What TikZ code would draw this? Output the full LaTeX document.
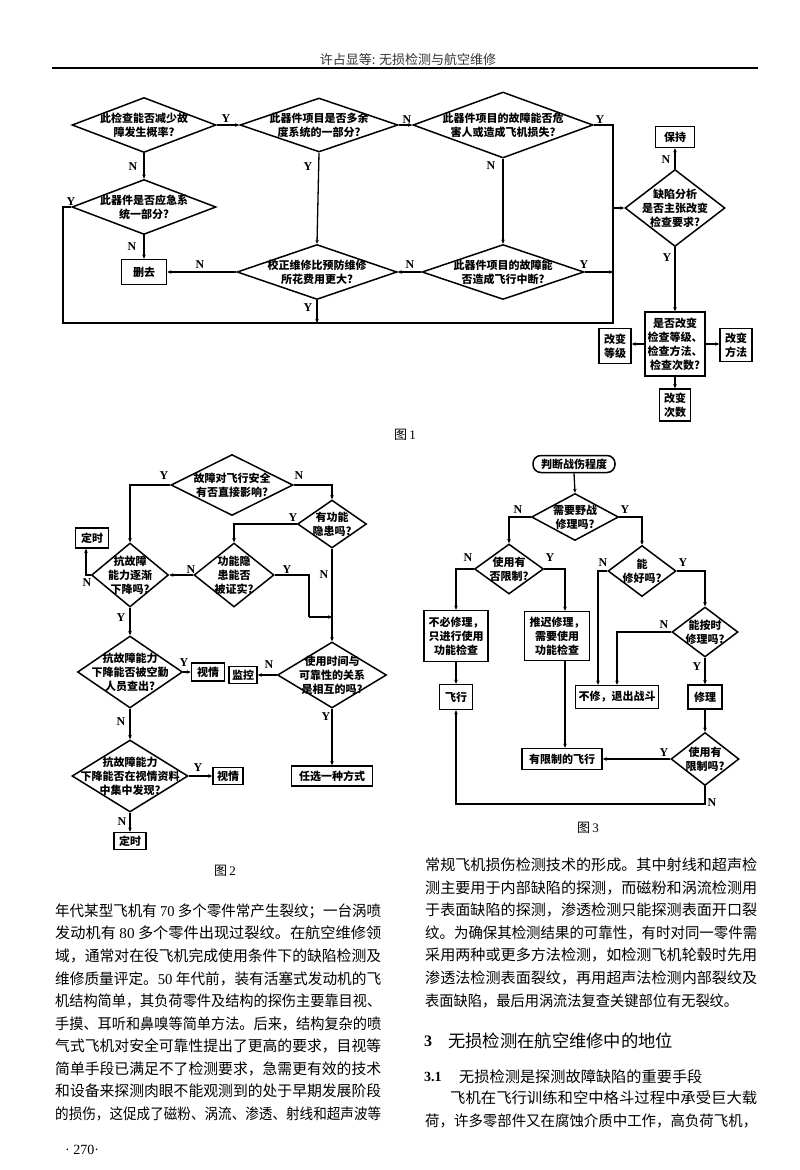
\documentclass[tikz,border=0pt]{standalone}
\usepackage{fontspec}
\usepackage{graphicx}
\setmainfont{Liberation Serif}
\newfontfamily\cjk{Noto Sans CJK SC}
\newfontfamily\cjkbody{Noto Sans CJK SC}
\usetikzlibrary{shapes.geometric,arrows.meta}
\newcommand\dfont{\cjk\bfseries\fontsize{11}{14}\selectfont}
\newcommand\ynfont{\rmfamily\bfseries\fontsize{12}{12}\selectfont}
\newcommand\bfont{\cjkbody\fontsize{15}{18}\selectfont}
\newcommand\dg[1]{{\rmfamily #1}}
\newcommand\jl[4]{\node[anchor=west,inner sep=0pt] (#1) at (#2) {\resizebox{#3pt}{\height}{\bfont #4}};}
\tikzset{
  ln/.style={line width=1.3pt},
  arr/.style={line width=1.3pt,-{Stealth[length=4pt,width=3.5pt]}},
  dia/.style 2 args={diamond, draw, line width=1.5pt, inner sep=0pt, minimum width=#1, minimum height=#2},
  dl/.style={label={[lbl]center:{#1}}},
  lbl/.style={align=center, font=\dfont, inner sep=0pt},
  bx/.style={draw, line width=1.5pt, inner sep=1.5pt, align=center, font=\dfont},
  yn/.style={font=\ynfont, inner sep=0pt},
  figcap/.style={font=\fontsize{13}{13}\selectfont, inner sep=0pt},
}
\begin{document}
\begin{tikzpicture}[x=1pt,y=-1pt]
\fill[white] (0,0) rectangle (800,1170);
\useasboundingbox (0,0) rectangle (800,1170);

% header
\node[font=\cjk\fontsize{13}{13}\selectfont, text=black!80, inner sep=0pt] (hdr) at (408,60) {许占显等: 无损检测与航空维修};
\draw[line width=1.1pt] (52,68) -- (758,68);

% ================= Figure 1 =================
\node[dia={144pt}{55pt}, dl={此检查能否减少故\\障发生概率?}] (d1) at (144,125) {};
\node[dia={158pt}{54pt}, dl={此器件项目是否多余\\度系统的一部分?}] (d2) at (319,125) {};
\node[dia={180pt}{66pt}, dl={此器件项目的故障能否危\\害人或造成飞机损失?}] (d3) at (503,125) {};
\node[dia={144pt}{55pt}, dl={此器件是否应急系\\统一部分?}] (d4) at (144,207) {};
\node[bx, minimum width=45pt, minimum height=25pt] (del) at (144,272) {删去};
\node[dia={160pt}{55pt}, dl={校正维修比预防维修\\所花费用更大?}] (d7) at (317,272) {};
\node[dia={162pt}{55pt}, dl={此器件项目的故障能\\否造成飞行中断?}] (d5) at (503,272) {};
\node[dia={100pt}{77pt}, dl={缺陷分析\\是否主张改变\\检查要求?}] (d6) at (675,208) {};
\node[bx, minimum width=39pt, minimum height=21pt] (keep) at (675,137) {保持};
\node[bx, minimum width=60pt, minimum height=64pt] (chg) at (675,344) {是否改变\\检查等级、\\检查方法、\\检查次数?};
\node[bx, minimum width=32pt, minimum height=35pt] (cl) at (615,346) {改变\\等级};
\node[bx, minimum width=32pt, minimum height=33pt] (cm) at (736,345) {改变\\方法};
\node[bx, minimum width=31pt, minimum height=32pt] (cc) at (675,405) {改变\\次数};

\coordinate (j1) at (613,208);
\coordinate (bl) at (63,323);
\coordinate (br) at (613,323);
\draw[arr] (d1.east) -- (d2.west);
\draw[arr] (d2.east) -- (d3.west);
\draw[arr] (d1.south) -- (d4.north);
\draw[arr] (d4.south) -- (del.north);
\draw[arr] (d2.south) -- (d7.north);
\draw[arr] (d3.south) -- (d5.north);
\draw[arr] (d7.west) -- (del.east);
\draw[arr] (d5.west) -- (d7.east);
\draw[ln] (d3.east) -| (j1);
\draw[ln] (d4.west) -| (bl) -- (br) -- (j1);
\draw[arr] (d5.east) -- (d5.east -| j1);
\draw[arr] (d7.south) -- (d7.south |- br);
\draw[arr] (j1) -- (d6.west);
\draw[arr] (d6.north) -- (keep.south);
\draw[arr] (d6.south) -- (chg.north);
\draw[arr] (chg.west) -- (chg.west -| cl.east);
\draw[arr] (chg.east) -- (chg.east -| cm.west);
\draw[arr] (chg.south) -- (cc.north);

\node[yn] (y1) at (226,119) {Y};
\node[yn] (n1) at (133,167) {N};
\node[yn] (y2) at (71,202) {Y};
\node[yn] (n2) at (132,247) {N};
\node[yn] (n3) at (200,265) {N};
\node[yn] (y3) at (308,167) {Y};
\node[yn] (n4) at (407,120) {N};
\node[yn] (n5) at (491,166) {N};
\node[yn] (y4) at (600,120) {Y};
\node[yn] (n6) at (410,265) {N};
\node[yn] (y5) at (584,265) {Y};
\node[yn] (y6) at (308,308) {Y};
\node[yn] (n7) at (666,160) {N};
\node[yn] (y7) at (667,258) {Y};
\node[figcap] (cap1) at (405,435) {{\cjk 图}\,1};

% ================= Figure 2 =================
\node[dia={122pt}{61pt}, dl={故障对飞行安全\\有否直接影响?}] (e1) at (232,485) {};
\node[dia={77pt}{64pt}, dl={抗故障\\能力逐渐\\下降吗?}] (e2) at (130,575) {};
\node[dia={69pt}{48pt}, dl={有功能\\隐患吗?}] (e3) at (332,524) {};
\node[dia={80pt}{64pt}, dl={功能隐\\患能否\\被证实?}] (e4) at (234,575) {};
\node[bx, minimum width=33pt, minimum height=20pt] (t1) at (92,538) {定时};
\node[dia={105pt}{72pt}, dl={抗故障能力\\下降能否被空勤\\人员查出?}] (e6) at (130,672) {};
\node[bx, minimum width=33pt, minimum height=18pt] (v1) at (208,672) {视情};
\node[dia={109pt}{66pt}, dl={使用时间与\\可靠性的关系\\是相互的吗?}] (e7) at (332,675) {};
\node[bx, minimum width=28pt, minimum height=17pt] (m1) at (243,675) {监控};
\node[bx, minimum width=81pt, minimum height=20pt] (r1) at (332,776) {任选一种方式};
\node[dia={116pt}{72pt}, dl={抗故障能力\\下降能否在视情资料\\中集中发现?}] (e8) at (130,776) {};
\node[bx, minimum width=30pt, minimum height=17pt] (v2) at (228,776) {视情};
\node[bx, minimum width=32pt, minimum height=17pt] (t2) at (130,841) {定时};

\coordinate (k1) at (309,617);
\coordinate (k2) at (86,575);
\draw[arr] (e1.west) -| (e2.north);
\draw[arr] (e1.east) -| (e3.north);
\draw[arr] (e3.west) -| (e4.north);
\draw[arr] (e4.west) -- (e2.east);
\draw[ln] (e4.east) -| (k1);
\draw[arr] (k1) -- (k1 -| e3.south);
\draw[arr] (e3.south) -- (e7.north);
\draw[arr] (e2.west) -- (k2) -- (k2 |- t1.south);
\draw[arr] (e2.south) -- (e6.north);
\draw[arr] (e6.east) -- (v1.west);
\draw[arr] (e7.west) -- (m1.east);
\draw[arr] (e7.south) -- (r1.north);
\draw[arr] (e6.south) -- (e8.north);
\draw[arr] (e8.east) -- (v2.west);
\draw[arr] (e8.south) -- (t2.north);

\node[yn] (y21) at (164,476) {Y};
\node[yn] (n21) at (299,476) {N};
\node[yn] (y22) at (293,518) {Y};
\node[yn] (n22) at (191,570) {N};
\node[yn] (y23) at (287,570) {Y};
\node[yn] (n23) at (324,575) {N};
\node[yn] (n24) at (87,583) {N};
\node[yn] (y24) at (121,618) {Y};
\node[yn] (y25) at (184,663) {Y};
\node[yn] (n25) at (269,665) {N};
\node[yn] (y26) at (326,717) {Y};
\node[yn] (n26) at (121,722) {N};
\node[yn] (y27) at (198,768) {Y};
\node[yn] (n27) at (122,822) {N};
\node[figcap] (cap2) at (225,871) {{\cjk 图}\,2};

% ================= Figure 3 =================
\node[draw, line width=1.5pt, rounded corners=8pt, minimum width=82pt, minimum height=17pt, inner sep=1pt, font=\dfont] (f0) at (574,464) {判断战伤程度};
\node[dia={87pt}{47pt}, dl={需要野战\\修理吗?}] (f1) at (575,517) {};
\node[dia={69pt}{50pt}, dl={使用有\\否限制?}] (f2) at (509,569) {};
\node[dia={68pt}{51pt}, dl={能\\修好吗?}] (f3) at (642,571) {};
\node[bx, minimum width=64pt, minimum height=51pt] (b1) at (456,636) {不必修理，\\只进行使用\\功能检查};
\node[bx, minimum width=65pt, minimum height=49pt] (b2) at (557,636) {推迟修理，\\需要使用\\功能检查};
\node[bx, minimum width=83pt, minimum height=23pt] (q1) at (617,697) {不修，退出战斗};
\node[dia={66pt}{50pt}, dl={能按时\\修理吗?}] (f4) at (705,632) {};
\node[bx, minimum width=34pt, minimum height=24pt] (x1) at (705,697) {修理};
\node[dia={68pt}{53pt}, dl={使用有\\限制吗?}] (f5) at (705,759) {};
\node[bx, minimum width=80pt, minimum height=21pt] (fl) at (562,759) {有限制的飞行};
\node[bx, minimum width=33pt, minimum height=25pt] (fx) at (456,697) {飞行};

\coordinate (k4) at (456,804);
\draw[arr] (f0.south) -- (f1.north);
\draw[arr] (f1.west) -| (f2.north);
\draw[arr] (f1.east) -| (f3.north);
\draw[arr] (f2.west) -| (b1.north);
\draw[arr] (f2.east) -| ([xshift=8pt]b2.north);
\draw[arr] ([xshift=8pt]b2.south) -- ([xshift=8pt]b2.south |- fl.north);
\draw[arr] (f3.west) -| ([xshift=-19pt]q1.north);
\draw[arr] (f4.west) -| (q1.north);
\draw[arr] (f3.east) -| (f4.north);
\draw[arr] (f4.south) -- (x1.north);
\draw[arr] (x1.south) -- (f5.north);
\draw[arr] (f5.west) -- (fl.east);
\draw[arr] (b1.south) -- (fx.north);
\draw[arr] (f5.south) |- (k4) -- (fx.south);

\node[yn] (n31) at (518,510) {N};
\node[yn] (y31) at (625,510) {Y};
\node[yn] (n32) at (468,558) {N};
\node[yn] (y32) at (550,558) {Y};
\node[yn] (n33) at (603,563) {N};
\node[yn] (y33) at (683,563) {Y};
\node[yn] (n34) at (664,625) {N};
\node[yn] (y34) at (697,667) {Y};
\node[yn] (y35) at (664,753) {Y};
\node[yn] (n35) at (712,803) {N};
\node[figcap] (cap3) at (588,828) {{\cjk 图}\,3};

% ================= Body text =================
\jl{L1}{55,911}{326}{年代某型飞机有 \dg{70} 多个零件常产生裂纹；一台涡喷}
\jl{L2}{55,933}{326}{发动机有 \dg{80} 多个零件出现过裂纹。在航空维修领}
\jl{L3}{55,956}{326}{域，通常对在役飞机完成使用条件下的缺陷检测及}
\jl{L4}{55,979}{326}{维修质量评定。\dg{50} 年代前，装有活塞式发动机的飞}
\jl{L5}{55,1001}{326}{机结构简单，其负荷零件及结构的探伤主要靠目视、}
\jl{L6}{55,1024}{326}{手摸、耳听和鼻嗅等简单方法。后来，结构复杂的喷}
\jl{L7}{55,1046}{326}{气式飞机对安全可靠性提出了更高的要求，目视等}
\jl{L8}{55,1069}{326}{简单手段已满足不了检测要求，急需更有效的技术}
\jl{L9}{55,1091}{326}{和设备来探测肉眼不能观测到的处于早期发展阶段}
\jl{L10}{55,1114}{326}{的损伤，这促成了磁粉、涡流、渗透、射线和超声波等}

\jl{R1}{425,865}{332}{常规飞机损伤检测技术的形成。其中射线和超声检}
\jl{R2}{425,888}{332}{测主要用于内部缺陷的探测，而磁粉和涡流检测用}
\jl{R3}{425,910}{332}{于表面缺陷的探测，渗透检测只能探测表面开口裂}
\jl{R4}{425,933}{332}{纹。为确保其检测结果的可靠性，有时对同一零件需}
\jl{R5}{425,955}{332}{采用两种或更多方法检测，如检测飞机轮毂时先用}
\jl{R6}{425,978}{332}{渗透法检测表面裂纹，再用超声法检测内部裂纹及}
\jl{R7}{425,1001}{313}{表面缺陷，最后用涡流法复查关键部位有无裂纹。}
\node[anchor=west, inner sep=0pt, font=\rmfamily\bfseries\fontsize{16}{16}\selectfont] (h1n) at (424,1041) {3};
\node[anchor=west, inner sep=0pt, font=\cjk\fontsize{17.3}{20}\selectfont] (h1t) at (448,1041) {无损检测在航空维修中的地位};
\node[anchor=west, inner sep=0pt, font=\rmfamily\bfseries\fontsize{14}{14}\selectfont] (h2n) at (424,1077) {3.1};
\node[anchor=west, inner sep=0pt, font=\cjk\fontsize{15.2}{18}\selectfont] (h2t) at (459,1077) {无损检测是探测故障缺陷的重要手段};
\jl{P1}{450,1098}{307}{飞机在飞行训练和空中格斗过程中承受巨大载}
\jl{P2}{425,1121}{332}{荷，许多零部件又在腐蚀介质中工作，高负荷飞机，}

\node[inner sep=0pt, font=\rmfamily\fontsize{14}{14}\selectfont] (pg) at (82,1150) {·\ 270·};
\end{tikzpicture}
\end{document}
